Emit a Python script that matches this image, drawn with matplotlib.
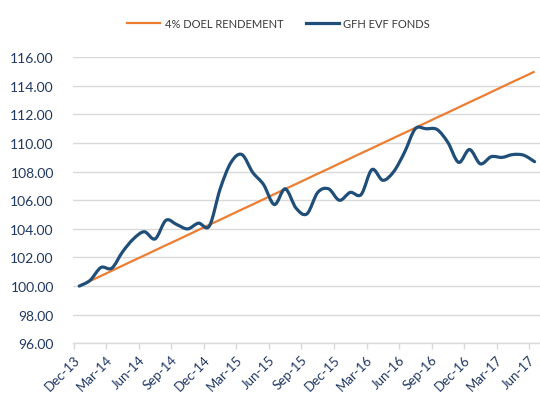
import matplotlib.pyplot as plt
import numpy as np
from matplotlib.lines import Line2D
from matplotlib.patches import PathPatch
from matplotlib.path import Path

# =======================
#          Data
# =======================
months = [
    "Dec-13", "Jan-14", "Feb-14", "Mar-14", "Apr-14", "May-14", "Jun-14",
    "Jul-14", "Aug-14", "Sep-14", "Oct-14", "Nov-14", "Dec-14", "Jan-15",
    "Feb-15", "Mar-15", "Apr-15", "May-15", "Jun-15", "Jul-15", "Aug-15",
    "Sep-15", "Oct-15", "Nov-15", "Dec-15", "Jan-16", "Feb-16", "Mar-16",
    "Apr-16", "May-16", "Jun-16", "Jul-16", "Aug-16", "Sep-16", "Oct-16",
    "Nov-16", "Dec-16", "Jan-17", "Feb-17", "Mar-17", "Apr-17", "May-17",
    "Jun-17",
]
doel_rendement = [
    100.00, 100.36, 100.71, 101.07, 101.43, 101.79, 102.14, 102.50, 102.86,
    103.21, 103.57, 103.93, 104.29, 104.64, 105.00, 105.36, 105.71, 106.07,
    106.43, 106.79, 107.14, 107.50, 107.86, 108.21, 108.57, 108.93, 109.29,
    109.64, 110.00, 110.36, 110.71, 111.07, 111.43, 111.79, 112.14, 112.50,
    112.86, 113.21, 113.57, 113.93, 114.29, 114.64, 115.00,
]
gfh_evf = [
    100.00, 100.40, 101.30, 101.25, 102.40, 103.30, 103.80, 103.30, 104.60,
    104.30, 104.00, 104.40, 104.20, 106.80, 108.65, 109.20, 107.95, 107.10,
    105.70, 106.80, 105.45, 105.05, 106.55, 106.80, 106.00, 106.55, 106.40,
    108.15, 107.40, 108.00, 109.35, 111.00, 111.00, 110.95, 110.05, 108.65,
    109.55, 108.55, 109.05, 109.00, 109.20, 109.15, 108.70,
]
yticks = [96, 98, 100, 102, 104, 106, 108, 110, 112, 114, 116]

ORANGE = "#ED7D31"
NAVY = "#1F4E79"
TEXT = "#203864"
GRID = "#D9D9D9"

plt.rcParams["font.family"] = ["Lato", "DejaVu Sans"]


def smooth_path(x, y):
    # Excel style smoothed line: cubic bezier segments through every point
    pts = np.column_stack([x, y]).astype(float)
    n = len(pts)
    verts = [pts[0]]
    codes = [Path.MOVETO]
    for i in range(n - 1):
        p_prev = pts[max(i - 1, 0)]
        p0 = pts[i]
        p1 = pts[i + 1]
        p_next = pts[min(i + 2, n - 1)]
        c1 = p0 + (p1 - p_prev) / 6.0
        c2 = p1 - (p_next - p0) / 6.0
        verts += [c1, c2, p1]
        codes += [Path.CURVE4] * 3
    return Path(verts, codes)


fig = plt.figure(figsize=(5.4, 4.14), dpi=100)
ax = fig.add_axes([0.1357, 0.1684, 0.8643, 0.6908])

x = np.arange(len(months))
ax.plot(x, doel_rendement, color=ORANGE, lw=1.6, zorder=3, solid_capstyle="butt")
ax.add_patch(
    PathPatch(
        smooth_path(x, gfh_evf),
        fill=False,
        edgecolor=NAVY,
        lw=2.3,
        zorder=4,
        capstyle="round",
        joinstyle="round",
    )
)

ax.set_xlim(-0.5, len(months) - 0.5)
ax.set_ylim(96, 116)
ax.set_yticks(yticks)
ax.set_yticklabels([f"{v:.2f}" for v in yticks], color=TEXT, fontsize=10)
ax.yaxis.grid(True, color=GRID, lw=1.0)
ax.set_axisbelow(True)

# labels sit a little left of the category centre so the last one fits
ax.set_xticks(x[::3] - 0.55)
ax.set_xticklabels(
    months[::3],
    rotation=45,
    ha="right",
    va="top",
    rotation_mode="anchor",
    color=TEXT,
    fontsize=9.5,
)
ax.set_xticks(np.arange(-0.5, len(months), 3), minor=True)
ax.tick_params(axis="x", which="major", length=0, pad=7)
ax.tick_params(axis="x", which="minor", length=4, color=GRID, width=1)
ax.tick_params(axis="y", length=0, pad=14)

for side in ["left", "right", "top"]:
    ax.spines[side].set_visible(False)
ax.spines["bottom"].set_color(GRID)
ax.spines["bottom"].set_linewidth(1.0)

handles = [
    Line2D([], [], color=ORANGE, lw=1.6),
    Line2D([], [], color=NAVY, lw=2.3),
]
fig.legend(
    handles,
    ["4% DOEL RENDEMENT", "GFH EVF FONDS"],
    loc="center",
    bbox_to_anchor=(0.516, 0.94),
    ncol=2,
    frameon=False,
    fontsize=8,
    handlelength=3.0,
    handletextpad=0.4,
    columnspacing=2.0,
    labelcolor="#3A3A3A",
)

fig.savefig("out.png", dpi=100)
